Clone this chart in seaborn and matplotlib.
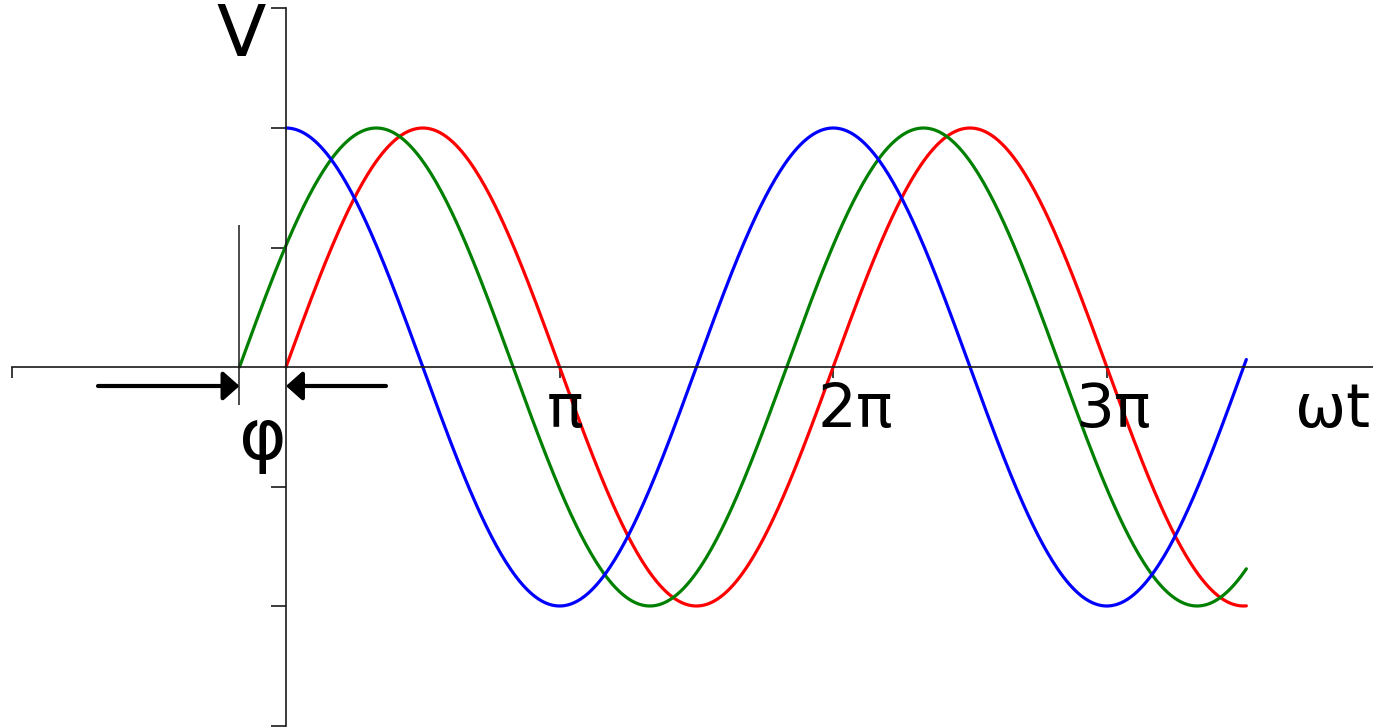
import numpy as np
import pandas as pd
import matplotlib
matplotlib.use("Agg")
import matplotlib.pyplot as plt
import seaborn as sns

# ---- data ----
wave_names = ["red", "green", "blue"]
wave_colors = ["#ff0000", "#008000", "#0000ff"]
amplitudes = [1.0, 1.0, 1.0]
phases = [0.0, 0.17 * np.pi, 0.5 * np.pi]      # sin(wt + phase)
start_wt = [0.0, -0.17 * np.pi, 0.0]
end_wt = 3.51 * np.pi
phi = 0.17 * np.pi
x_tick_pos = [-np.pi, np.pi, 2 * np.pi, 3 * np.pi]
x_tick_labels = ["π", "2π", "3π"]
y_tick_pos = [-1.5, -1.0, -0.5, 0.5, 1.0, 1.5]

# ---- build long table ----
rows = []
for name, a, p, s in zip(wave_names, amplitudes, phases, start_wt):
    wt = np.linspace(s, end_wt, 600)
    rows.append(pd.DataFrame({"wt": wt, "V": a * np.sin(wt + p), "wave": name}))
df = pd.concat(rows, ignore_index=True)

sns.set_style("white")
plt.rcParams["font.family"] = ["DejaVu Sans"]
plt.rcParams["text.color"] = "black"

W, H = 1373, 727
fig = plt.figure(figsize=(W / 100, H / 100), dpi=100)
ax = fig.add_axes([0, 0, 1, 1])

# pixel geometry of the reference -> data limits
x0_px, pi_px = 286.0, 273.6
y0_px, amp_px = 367.0, 239.0
def px2x(px):
    return (px - x0_px) / pi_px * np.pi
def px2y(py):
    return (y0_px - py) / amp_px

ax.set_xlim(px2x(0), px2x(W))
ax.set_ylim(px2y(H), px2y(0))

sns.lineplot(data=df, x="wt", y="V", hue="wave", hue_order=wave_names,
             palette=dict(zip(wave_names, wave_colors)), sort=False,
             estimator=None, units="wave", legend=False, linewidth=2.3, ax=ax)

# axes through origin
axis_col = "#1a1a1a"
for side in ["top", "right"]:
    ax.spines[side].set_visible(False)
ax.spines["left"].set_position(("data", 0))
ax.spines["bottom"].set_position(("data", 0))
for side in ["left", "bottom"]:
    ax.spines[side].set_color(axis_col)
    ax.spines[side].set_linewidth(1.2)
ax.spines["left"].set_bounds(-1.5, 1.5)
ax.spines["bottom"].set_bounds(-np.pi, px2x(W + 5))
ax.set_xticks(x_tick_pos)
ax.set_yticks(y_tick_pos)
ax.set_xticklabels([])
ax.set_yticklabels([])
ax.tick_params(axis="x", direction="out", length=8, width=1.2, color=axis_col, bottom=True)
ax.tick_params(axis="y", direction="out", length=11, width=1.2, color=axis_col, left=True)
ax.set_xlabel("")
ax.set_ylabel("")

# phase marker
ax.vlines(-phi, px2y(405), px2y(225), color=axis_col, linewidth=1.1)
ay = px2y(386)
arrow_kw = dict(arrowstyle="-|>,head_length=0.45,head_width=0.4", lw=3, color="black",
                shrinkA=0, shrinkB=0, mutation_scale=22)
ax.annotate("", xy=(-phi, ay), xytext=(px2x(98), ay), arrowprops=arrow_kw)
ax.annotate("", xy=(0, ay), xytext=(px2x(386), ay), arrowprops=arrow_kw)

# labels
fs = 44
ax.text(px2x(241), px2y(37), "V", fontsize=52, ha="center", va="center", color="black")
ax.text(px2x(263), px2y(440), "φ", fontsize=52, ha="center", va="center", color="black")
for lab, cx in zip(x_tick_labels, [565, 855, 1113]):
    ax.text(px2x(cx), px2y(410), lab, fontsize=fs, ha="center", va="center", color="black")
ax.text(px2x(1333), px2y(410), "ωt", fontsize=fs, ha="center", va="center", color="black")

fig.savefig("out.png", dpi=100)
